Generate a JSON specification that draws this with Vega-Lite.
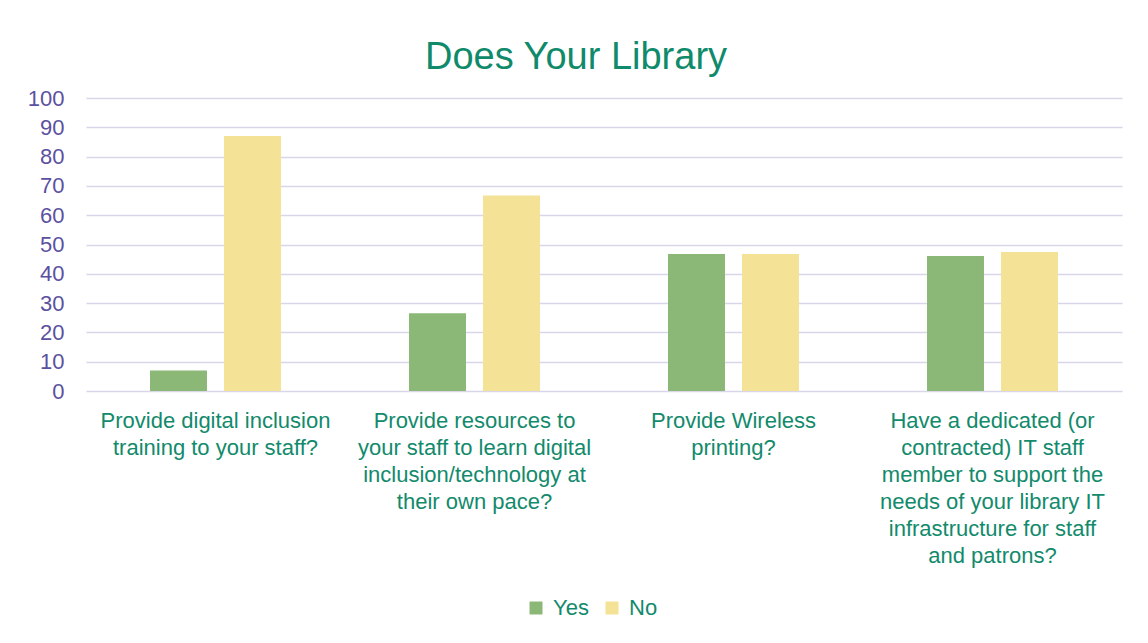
{
  "$schema": "https://vega.github.io/schema/vega-lite/v6.json",
  "width": 1036,
  "height": 293,
  "autosize": {"type": "none"},
  "padding": {"left": 86, "top": 98, "right": 26, "bottom": 252},
  "background": "white",
  "title": {
    "text": "Does Your Library",
    "font": "Liberation Sans",
    "fontSize": 38,
    "fontWeight": "normal",
    "color": "#0f8a6b",
    "anchor": "middle",
    "dx": -28,
    "offset": 10
  },
  "data": {
    "values": [
      {"question": "Provide digital inclusion\ntraining to your staff?", "answer": "Yes", "value": 7.0},
      {"question": "Provide digital inclusion\ntraining to your staff?", "answer": "No", "value": 87.0},
      {"question": "Provide resources to\nyour staff to learn digital\ninclusion/technology at\ntheir own pace?", "answer": "Yes", "value": 26.5},
      {"question": "Provide resources to\nyour staff to learn digital\ninclusion/technology at\ntheir own pace?", "answer": "No", "value": 66.7},
      {"question": "Provide Wireless\nprinting?", "answer": "Yes", "value": 46.8},
      {"question": "Provide Wireless\nprinting?", "answer": "No", "value": 46.8},
      {"question": "Have a dedicated (or\ncontracted) IT staff\nmember to support the\nneeds of your library IT\ninfrastructure for staff\nand patrons?", "answer": "Yes", "value": 46.1},
      {"question": "Have a dedicated (or\ncontracted) IT staff\nmember to support the\nneeds of your library IT\ninfrastructure for staff\nand patrons?", "answer": "No", "value": 47.4}
    ]
  },
  "mark": {"type": "bar"},
  "encoding": {
    "x": {
      "field": "question",
      "type": "nominal",
      "sort": null,
      "scale": {"paddingInner": 0, "paddingOuter": 0},
      "axis": {
        "title": null,
        "labelAngle": 0,
        "labelExpr": "split(datum.label, '\\n')",
        "labelFont": "Liberation Sans",
        "labelFontSize": 22,
        "labelLineHeight": 27,
        "labelColor": "#128a6c",
        "labelBaseline": "top",
        "labelPadding": 19,
        "labelLimit": 0,
        "ticks": false,
        "domain": false,
        "grid": false
      }
    },
    "xOffset": {
      "field": "answer",
      "sort": ["Yes", "No"],
      "scale": {"paddingInner": 0.23, "paddingOuter": 0.865}
    },
    "y": {
      "field": "value",
      "type": "quantitative",
      "scale": {"domain": [0, 100]},
      "axis": {
        "title": null,
        "values": [0, 10, 20, 30, 40, 50, 60, 70, 80, 90, 100],
        "labelFont": "Liberation Sans",
        "labelFontSize": 22,
        "labelColor": "#5b51a0",
        "labelPadding": 22,
        "ticks": false,
        "domain": false,
        "grid": true,
        "gridColor": "#d9d6ea",
        "gridWidth": 1.5
      }
    },
    "color": {
      "field": "answer",
      "type": "nominal",
      "scale": {"domain": ["Yes", "No"], "range": ["#8cb877", "#f4e297"]},
      "legend": {
        "title": null,
        "orient": "none",
        "direction": "horizontal",
        "legendX": 439,
        "legendY": 499,
        "symbolType": "square",
        "symbolSize": 169,
        "symbolStrokeWidth": 0,
        "labelFont": "Liberation Sans",
        "labelFontSize": 22,
        "labelColor": "#128a6c",
        "labelOffset": 6,
        "columnPadding": 12
      }
    }
  },
  "config": {"view": {"stroke": null}}
}
